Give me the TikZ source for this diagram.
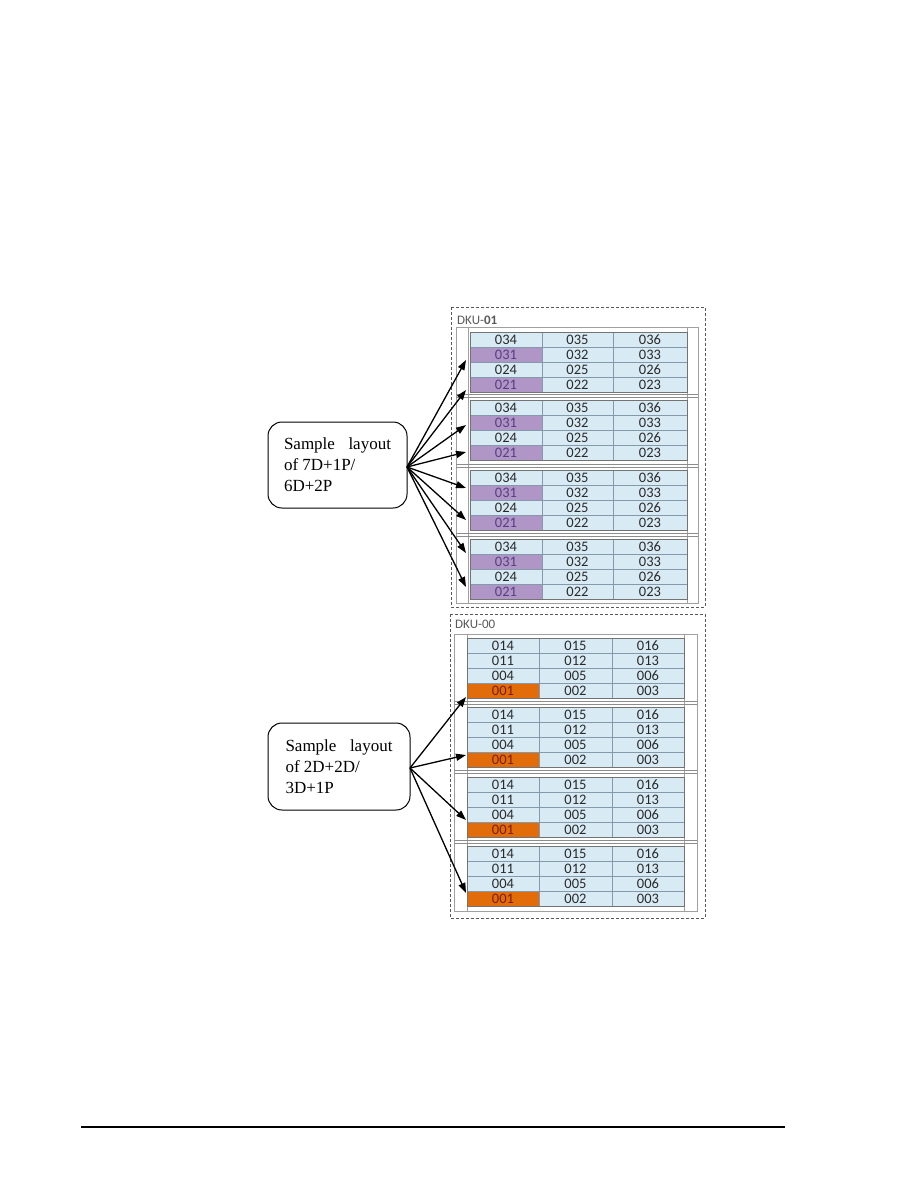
\documentclass[tikz,border=0pt]{standalone}
\usepackage{fontspec}
\setmainfont{Liberation Serif}
\newfontfamily\cellfont{Carlito}
\usetikzlibrary{arrows.meta}
\definecolor{cellblue}{HTML}{D8EBF4}
\definecolor{cellline}{HTML}{8499AA}
\definecolor{purp}{HTML}{AF96C6}
\definecolor{orng}{HTML}{E36C0A}
\definecolor{txtgray}{HTML}{2A2A2A}
\definecolor{ptxt}{HTML}{5B3C80}
\definecolor{otxt}{HTML}{7A1E00}
\definecolor{railline}{HTML}{A0A0A0}
\tikzset{
  cell/.style={font=\cellfont\fontsize{14.5}{15}\selectfont, inner sep=0pt, anchor=base},
  dkulabel/.style={font=\cellfont\fontsize{13}{14}\selectfont, text=black!65, anchor=west, inner sep=0pt},
  dkubox/.style={draw=black!65, line width=1pt, dash pattern=on 3pt off 2pt},
  rail/.style={draw=railline, fill=white, line width=0.8pt},
  sep/.style={draw=black!45, line width=0.8pt},
  callout/.style={draw=black, line width=1pt, rounded corners=14pt, text width=107pt, minimum width=139pt, align=justify, font=\fontsize{17}{21}\selectfont, inner xsep=16pt},
  arr/.style={draw=black, line width=1.3pt, -{Triangle[length=10pt,width=7pt]}},
}
\begin{document}
\begin{tikzpicture}[x=1pt,y=-1pt]
\useasboundingbox (0,0) rectangle (918,1188);
\fill[white] (0,0) rectangle (918,1188);

% ---------------- DKU-01 ----------------
\draw[dkubox] (451,307) rectangle (705,607);
\node[dkulabel] (lab01) at (457,320) {DKU-\textbf{01}};
\draw[rail] (456,327) rectangle (698,603);
\draw[railline] (468,327) -- (468,603);
\draw[railline] (687,327) -- (687,603);
\foreach \g in {396,465.5,534.5} {
  \draw[sep] (456,{\g-1.5}) -- (698,{\g-1.5});
  \draw[sep] (456,{\g+1.5}) -- (698,{\g+1.5});
}
\foreach \u/\t in {1/332,2/400.5,3/470.5,4/539} {
  \foreach \r/\a/\b/\c/\fc/\tc in {0/034/035/036/cellblue/txtgray,1/031/032/033/purp/ptxt,2/024/025/026/cellblue/txtgray,3/021/022/023/purp/ptxt} {
    \fill[\fc] (470,{\t+15*\r}) rectangle (542,{\t+15*\r+15});
    \fill[cellblue] (542,{\t+15*\r}) rectangle (687,{\t+15*\r+15});
    \draw[cellline, line width=0.6pt] (470,{\t+15*\r}) rectangle (542,{\t+15*\r+15});
    \draw[cellline, line width=0.6pt] (542,{\t+15*\r}) rectangle (613,{\t+15*\r+15});
    \draw[cellline, line width=0.6pt] (613,{\t+15*\r}) rectangle (687,{\t+15*\r+15});
    \node[cell, text=\tc] (h-\u-\r-a) at (506,{\t+15*\r+12.2}) {\a};
    \node[cell, text=txtgray] (h-\u-\r-b) at (577.5,{\t+15*\r+12.2}) {\b};
    \node[cell, text=txtgray] (h-\u-\r-c) at (650,{\t+15*\r+12.2}) {\c};
  }
  \draw[black!55, line width=0.9pt] (470,\t) rectangle (687,{\t+60});
}

% ---------------- DKU-00 ----------------
\draw[dkubox] (450,614) rectangle (705,918);
\node[dkulabel] (lab00) at (455,624) {DKU-00};
\draw[rail] (454,634) rectangle (697,911);
\draw[railline] (467,634) -- (467,911);
\draw[railline] (684,634) -- (684,911);
\foreach \g in {702.5,772,841.5} {
  \draw[sep] (454,{\g-1.5}) -- (697,{\g-1.5});
  \draw[sep] (454,{\g+1.5}) -- (697,{\g+1.5});
}
\foreach \u/\t in {1/638,2/707,3/777,4/846} {
  \foreach \r/\a/\b/\c/\fc/\tc in {0/014/015/016/cellblue/txtgray,1/011/012/013/cellblue/txtgray,2/004/005/006/cellblue/txtgray,3/001/002/003/orng/otxt} {
    \fill[\fc] (467,{\t+15*\r}) rectangle (539,{\t+15*\r+15});
    \fill[cellblue] (539,{\t+15*\r}) rectangle (684,{\t+15*\r+15});
    \draw[cellline, line width=0.6pt] (467,{\t+15*\r}) rectangle (539,{\t+15*\r+15});
    \draw[cellline, line width=0.6pt] (539,{\t+15*\r}) rectangle (612,{\t+15*\r+15});
    \draw[cellline, line width=0.6pt] (612,{\t+15*\r}) rectangle (684,{\t+15*\r+15});
    \node[cell, text=\tc] (k-\u-\r-a) at (503,{\t+15*\r+12.2}) {\a};
    \node[cell, text=txtgray] (k-\u-\r-b) at (575.5,{\t+15*\r+12.2}) {\b};
    \node[cell, text=txtgray] (k-\u-\r-c) at (648,{\t+15*\r+12.2}) {\c};
  }
  \draw[black!55, line width=0.9pt] (467,\t) rectangle (684,{\t+60});
}

% ---------------- callouts ----------------
\node[callout, minimum height=86pt] (box1) at (337.5,465) {Sample\hfill layout\\ of 7D+1P/\\ 6D+2P};
\node[callout, minimum height=87pt, minimum width=142pt] (box2) at (339,766.5) {Sample\hfill layout\\ of 2D+2D/\\ 3D+1P};

\coordinate (s1) at (407,467);
\coordinate (s2) at (410,768);
\foreach \i/\y in {1/360,2/390,3/425,4/452,5/488,6/520,7/553,8/587} {
  \coordinate (ta\i) at (466,\y);
  \draw[arr] (s1) -- (ta\i);
}
\foreach \i/\y in {1/697,2/755,3/820,4/893} {
  \coordinate (tb\i) at (466,\y);
  \draw[arr] (s2) -- (tb\i);
}

% bottom rule
\draw[line width=2.2pt] (81,1127) -- (785,1127);
\end{tikzpicture}
\end{document}
